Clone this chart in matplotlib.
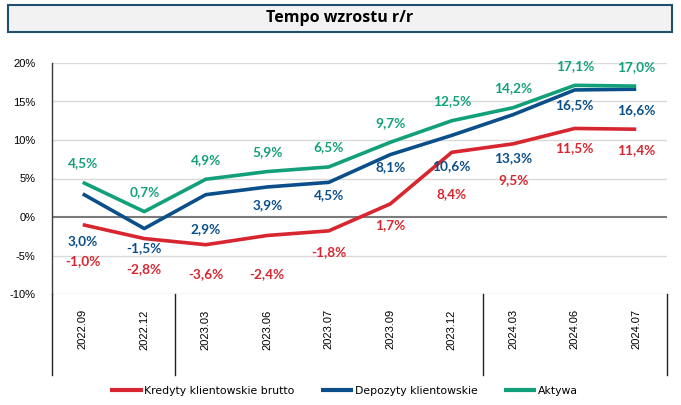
import matplotlib
matplotlib.use("Agg")
import matplotlib.pyplot as plt
from matplotlib.patches import Rectangle
from matplotlib.lines import Line2D
import matplotlib.transforms as mtransforms

categories = ["2022.09", "2022.12", "2023.03", "2023.06", "2023.07",
              "2023.09", "2023.12", "2024.03", "2024.06", "2024.07"]
kredyty = [-1.0, -2.8, -3.6, -2.4, -1.8, 1.7, 8.4, 9.5, 11.5, 11.4]
depozyty = [3.0, -1.5, 2.9, 3.9, 4.5, 8.1, 10.6, 13.3, 16.5, 16.6]
aktywa = [4.5, 0.7, 4.9, 5.9, 6.5, 9.7, 12.5, 14.2, 17.1, 17.0]
series_names = ["Kredyty klientowskie brutto", "Depozyty klientowskie", "Aktywa"]
yticks = [-10, -5, 0, 5, 10, 15, 20]
title = "Tempo wzrostu r/r"

# label offsets in points (negative = below)
off_k = [-26, -22, -21, -28, -15, -15, -30, -26, -14, -15]
off_d = [-34, -14, -25, -13, -9, -9, -22, -31, -11, -15]
off_a = [14, 14, 14, 14, 14, 14, 14, 14, 14, 14]

colors = ["#d7262f", "#0b4f8a", "#12a07a"]

W, H = 681, 405
fig = plt.figure(figsize=(W / 100, H / 100), dpi=100)
ax = fig.add_axes([52 / W, (H - 294) / H, (667 - 52) / W, (294 - 63) / H])

x = list(range(len(categories)))
for vals, offs, c, name in zip([kredyty, depozyty, aktywa], [off_k, off_d, off_a], colors, series_names):
    ax.plot(x, vals, color=c, lw=2.6, solid_capstyle="butt", label=name, zorder=3)
    for xi, v, o in zip(x, vals, offs):
        ax.annotate(f"{v:.1f}%".replace(".", ","), (xi, v), xytext=(0, o), textcoords="offset points",
                    ha="center", va="center", color=c, fontsize=9.8, fontweight="bold",
                    family=["Lato", "DejaVu Sans"])

ax.set_xlim(-0.5, len(categories) - 0.5)
ax.set_ylim(-10, 20)
ax.set_yticks(yticks)
ax.set_yticklabels([f"{t}%" for t in yticks], fontsize=8, family=["Liberation Sans", "DejaVu Sans"])
ax.tick_params(axis="y", length=0, pad=12)
for t in yticks:
    if t == 0:
        ax.axhline(t, color="#7a7a7a", lw=1.5, zorder=2)
    else:
        ax.axhline(t, color="#d9d9d9", lw=1.0, zorder=1)
for s in ["top", "right", "bottom"]:
    ax.spines[s].set_visible(False)
ax.spines["left"].set_color("#3a3a3a")
ax.spines["left"].set_linewidth(1.0)

ax.set_xticks(x)
ax.set_xticklabels(categories, rotation=90, fontsize=8, family=["Liberation Sans", "DejaVu Sans"], va="top")
ax.tick_params(axis="x", length=0, pad=11)

trans = mtransforms.blended_transform_factory(ax.transData, ax.transAxes)
depth = -(375 - 294) / (294 - 63)
for sx in [-0.5, 1.5, 6.5, 9.5]:
    ax.add_line(Line2D([sx, sx], [0, depth], transform=trans, color="#222222", lw=1.0, clip_on=False))

# title box
fig.patches.append(Rectangle((8 / W, (H - 32) / H), (672 - 8) / W, 27 / H, transform=fig.transFigure,
                             facecolor="#f2f2f2", edgecolor="#1f4e6e", lw=1.5))
fig.text(340 / W, (H - 18.5) / H, title, ha="center", va="center", fontsize=11.5, fontweight="bold",
         family=["Liberation Sans Narrow", "Open Sans", "DejaVu Sans"])

leg = fig.legend(loc="center", bbox_to_anchor=(344 / W, (H - 391) / H), ncol=3, frameon=False,
                 prop={"family": ["Liberation Sans Narrow", "DejaVu Sans"], "size": 7.8},
                 handlelength=3.0, handletextpad=0.15, columnspacing=2.4)
for l in leg.get_lines():
    l.set_linewidth(3)

fig.savefig("out.png", dpi=100)
